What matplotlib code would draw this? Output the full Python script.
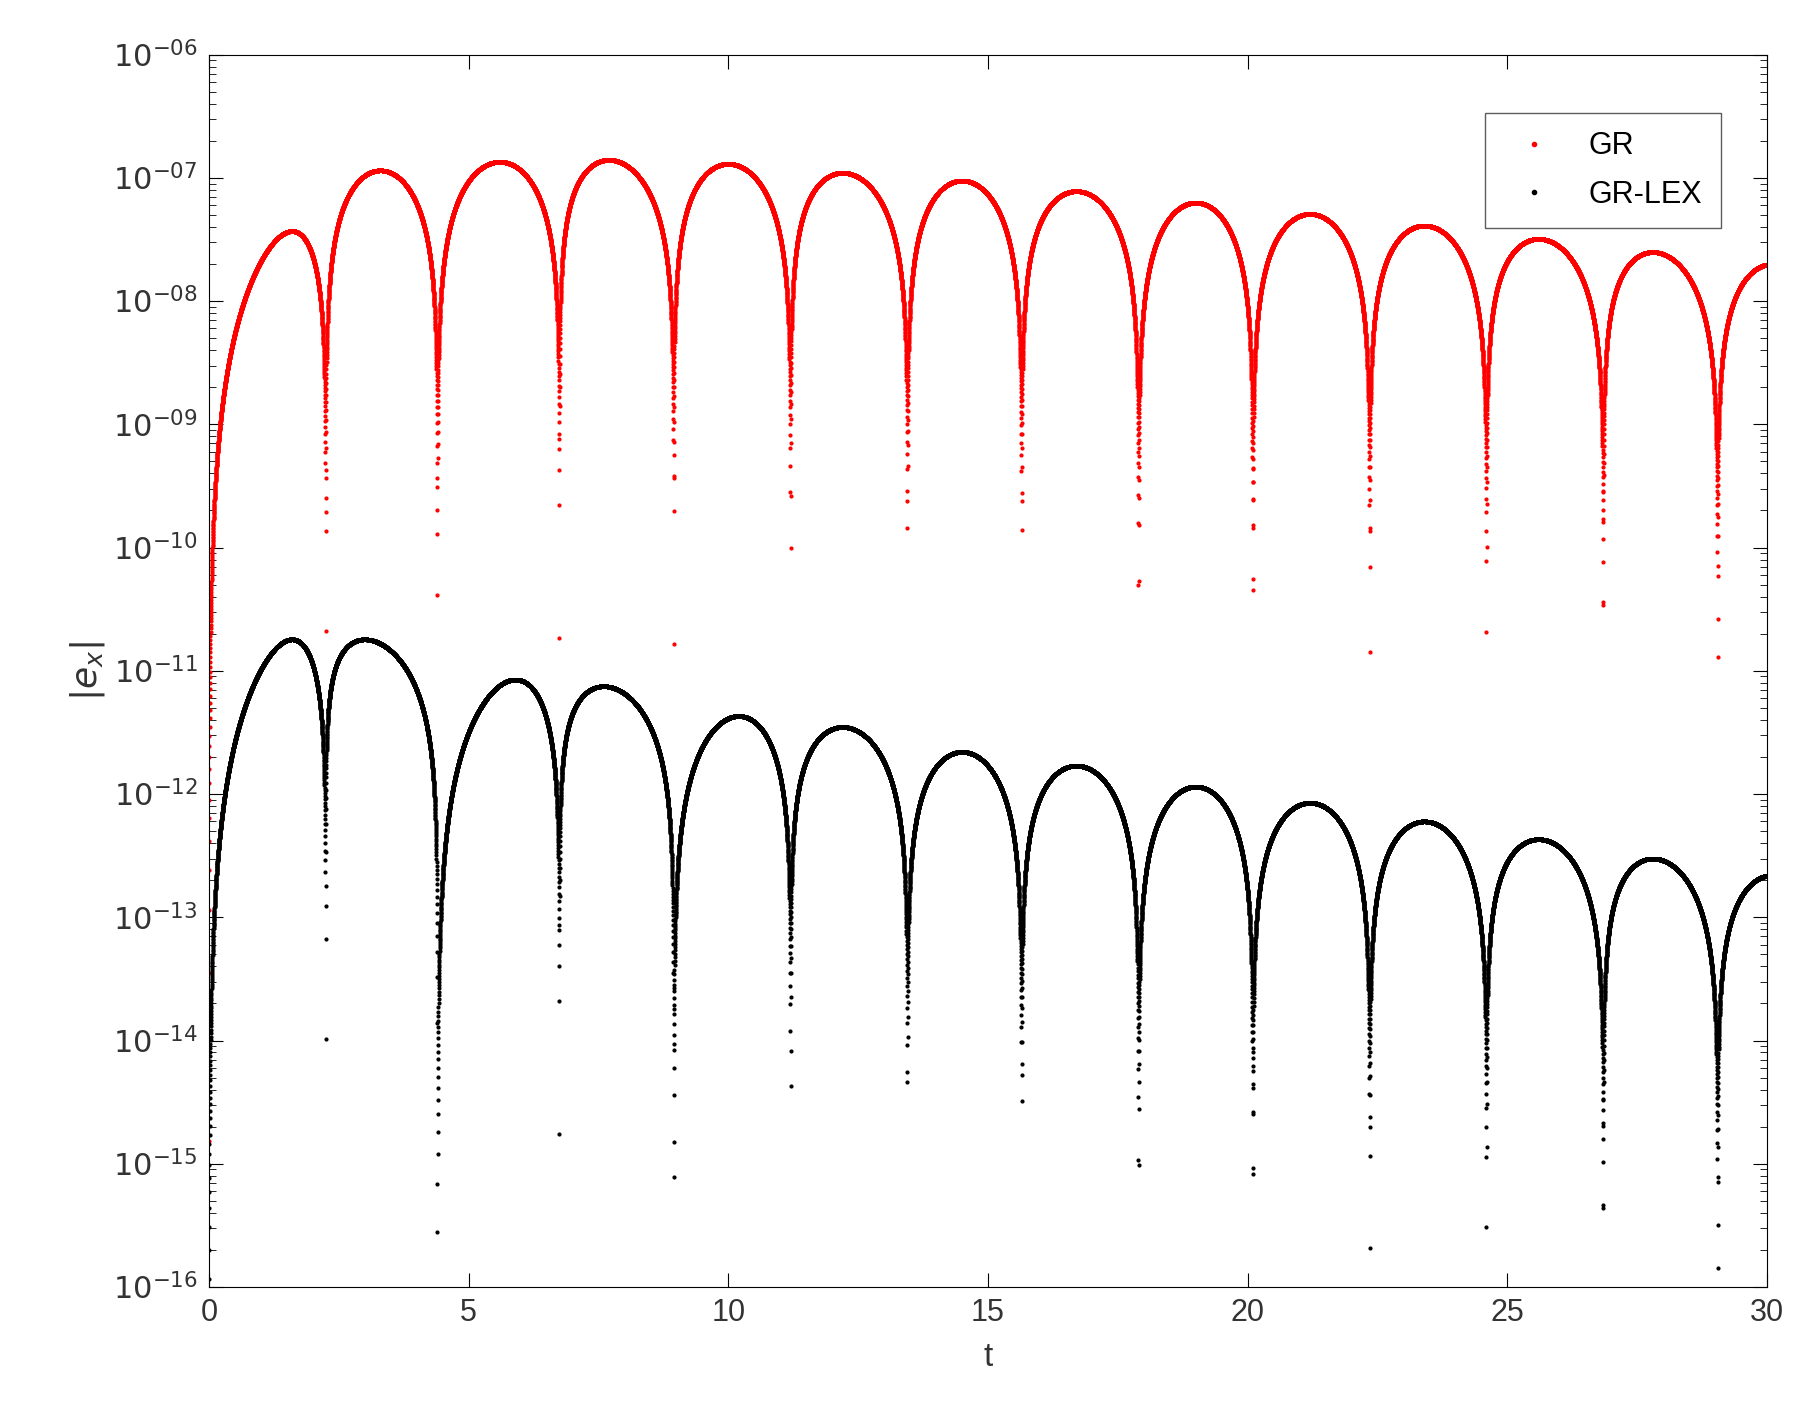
import numpy as np
import matplotlib.pyplot as plt
from matplotlib.ticker import FixedLocator, FuncFormatter, LogLocator

# zero (dip) times shared by both series
zeros = [0, 2.25, 4.4, 6.75, 8.95, 11.2, 13.45, 15.65, 17.9, 20.1, 22.35, 24.6, 26.85, 29.05, 31.3]
# arch peaks
gr_peak_t = [1.6, 3.3, 5.6, 7.7, 10.0, 12.2, 14.5, 16.7, 19.0, 21.2, 23.4, 25.6, 27.8, 30.1]
gr_peak_v = [3.7e-8, 1.15e-7, 1.35e-7, 1.4e-7, 1.3e-7, 1.1e-7, 9.5e-8, 7.8e-8, 6.3e-8,
             5.1e-8, 4.1e-8, 3.2e-8, 2.5e-8, 2.0e-8]
lex_peak_t = [1.6, 3.0, 5.9, 7.6, 10.2, 12.2, 14.5, 16.7, 19.0, 21.2, 23.4, 25.6, 27.8, 30.1]
lex_peak_v = [1.8e-11, 1.8e-11, 8.5e-12, 7.5e-12, 4.3e-12, 3.5e-12, 2.2e-12, 1.7e-12,
              1.15e-12, 8.5e-13, 6e-13, 4.3e-13, 3e-13, 2.2e-13]


def arches(t, peak_t, peak_v):
    y = np.zeros_like(t)
    for i in range(len(zeros) - 1):
        z0, z1 = zeros[i], zeros[i + 1]
        m = (t >= z0) & (t < z1)
        u = (t[m] - z0) / (z1 - z0)
        f = (peak_t[i] - z0) / (z1 - z0)
        k = np.log(0.5) / np.log(f)
        y[m] = peak_v[i] * np.abs(np.sin(np.pi * u ** k))
    return y


t = np.arange(0.0003, 30.0001, 0.0011)
gr = arches(t, gr_peak_t, gr_peak_v)
lex = arches(t, lex_peak_t, lex_peak_v)
gr[gr <= 0] = np.nan
lex[lex <= 0] = np.nan

plt.rcParams['font.family'] = ['Liberation Sans', 'DejaVu Sans']
fig = plt.figure(figsize=(18.16, 14.19), dpi=100)
ax = fig.add_axes([0.115, 1 - 0.907, 0.858, 0.907 - 0.0385])
ax.plot(t, gr, '.', color='red', markersize=4, label='GR')
ax.plot(t, lex, '.', color='black', markersize=4, label='GR-LEX')
ax.set_yscale('log')
ax.set_xlim(0, 30)
ax.set_ylim(1e-16, 1e-6)
ax.yaxis.set_major_locator(FixedLocator([10.0 ** e for e in range(-16, -5)]))
ax.yaxis.set_minor_locator(LogLocator(base=10, subs=np.arange(2, 10), numticks=20))
ax.yaxis.set_major_formatter(FuncFormatter(
    lambda v, p: r'$10^{-%02d}$' % round(-np.log10(v))))
ax.set_xticks(range(0, 31, 5))
ax.tick_params(which='both', direction='in', top=True, right=True, labelsize=22,
               labelcolor='#333333', length=10, pad=8)
ax.tick_params(which='minor', length=5)
ax.set_xlabel('t', fontsize=24, color='#333333', labelpad=10)
ax.set_ylabel(r'$|e_x|$', fontsize=26, color='#333333')
leg = ax.legend(loc='upper right', fontsize=22, markerscale=1.5, fancybox=False,
                edgecolor='#333333', bbox_to_anchor=(0.98, 0.965), borderpad=0.6,
                labelspacing=0.6)
fig.savefig('out.png', dpi=100)
